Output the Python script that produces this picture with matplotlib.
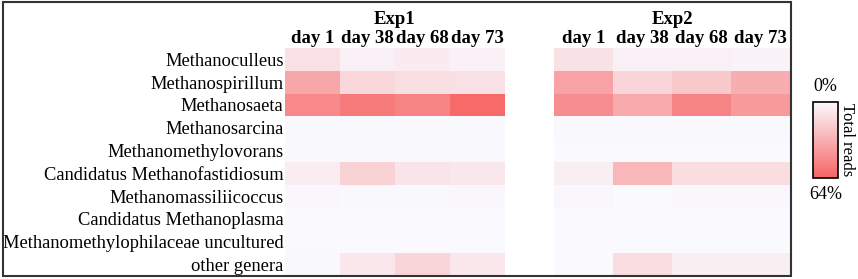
""" Import Required Libraries """
import numpy as np
import matplotlib
matplotlib.use("Agg")
import matplotlib.pyplot as plt
from matplotlib.colors import LinearSegmentedColormap, Normalize
from matplotlib.patches import Rectangle

plt.rcParams['font.family'] = ['Liberation Serif', 'DejaVu Serif']

""" Data (% of total reads) """
genera = ["Methanoculleus", "Methanospirillum", "Methanosaeta", "Methanosarcina",
          "Methanomethylovorans", "Candidatus Methanofastidiosum",
          "Methanomassiliicoccus", "Candidatus Methanoplasma",
          "Methanomethylophilaceae uncultured", "other genera"]
days = ["day 1", "day 38", "day 68", "day 73"]
experiments = ["Exp1", "Exp2"]

exp1 = [[11, 4, 6, 3.5],
        [35, 14.5, 11.5, 11],
        [48, 54, 50, 61],
        [0.5, 0.5, 0.5, 0.5],
        [0.5, 0.5, 0.5, 0.5],
        [5.5, 17, 9, 8],
        [1, 0.5, 0.5, 1],
        [0.3, 0.3, 0.3, 0.3],
        [0.3, 0.3, 0.3, 0.3],
        [0.5, 8, 16, 8]]
exp2 = [[10, 4, 4, 3],
        [37, 16, 21, 32],
        [46, 34, 50, 41],
        [0.5, 0.5, 0.5, 0.5],
        [0.3, 0.3, 0.3, 0.3],
        [5, 28, 12, 12],
        [1, 0.2, 1, 1],
        [0.3, 0.3, 0.3, 0.3],
        [0.3, 0.3, 0.3, 0.3],
        [0.3, 12, 5, 5]]
vmax = 64

""" Colormap """
cmap = LinearSegmentedColormap.from_list("reads", ["#FAFAFF", "#F76464"])
norm = Normalize(0, vmax)

fig = plt.figure(figsize=(8.58, 2.79), dpi=100)

# heatmap panels
panels = [(0.332, 0.256, exp1), (0.646, 0.275, exp2)]
axes = []
for i, (x0, w, data) in enumerate(panels):
    ax = fig.add_axes([x0, 0.011, w, 0.817])
    ax.imshow(np.array(data), cmap=cmap, norm=norm, aspect='auto', interpolation='nearest')
    ax.set_xticks(range(len(days)))
    ax.set_xticklabels(days, fontsize=13.5, fontweight='bold')
    ax.xaxis.tick_top()
    ax.tick_params(length=0, pad=1)
    ax.set_yticks([])
    for s in ax.spines.values():
        s.set_visible(False)
    ax.set_title(experiments[i], fontsize=13.5, fontweight='bold', pad=17)
    axes.append(ax)

axes[0].set_yticks(range(len(genera)))
axes[0].set_yticklabels(genera, fontsize=13.3)
axes[0].tick_params(axis='y', length=0, pad=1)

""" Colorbar """
cax = fig.add_axes([0.9476, 0.362, 0.029, 0.272])
sm = plt.cm.ScalarMappable(norm=norm, cmap=cmap)
cb = fig.colorbar(sm, cax=cax)
cb.set_ticks([])
cb.outline.set_linewidth(1.2)
cax.invert_yaxis()
fig.text(0.962, 0.66, "0%", ha='center', va='bottom', fontsize=13)
fig.text(0.962, 0.335, "64%", ha='center', va='top', fontsize=13)
fig.text(0.987, 0.498, "Total reads", rotation=270, ha='center', va='center', fontsize=12)

""" Outer frame """
fig.patches.append(Rectangle((0.003, 0.01), 0.919, 0.982, transform=fig.transFigure,
                             fill=False, edgecolor='#333333', linewidth=1.5))

fig.savefig("out.png", dpi=100)
